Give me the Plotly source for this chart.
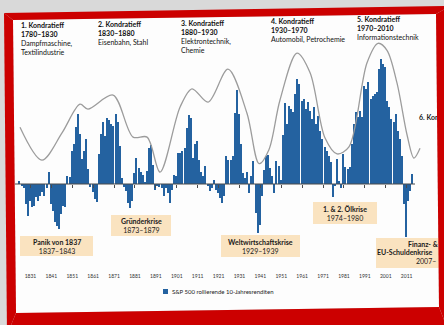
import plotly.graph_objects as go

# ---------------------------------------------------------------- data
years = list(range(1826, 2015))
# S&P 500 rolling 10-year returns, % p.a.
returns = [
    0.4, -0.3, -0.6, -2.9, -4.6, -2.4, -3.3, -3.1, -1.9, -2.4,
    -1.7, -1.1, -1.7, -0.6, 1.7, -2.9, -3.9, -5.4, -6.0, -6.4,
    -4.3, -3.1, -3.3, 1.1, 1.0, 4.7, 5.7, 8.1, 10.0, 7.1,
    3.6, 4.7, 6.4, 2.1, -0.4, -1.1, -2.1, -2.6, 4.3, 7.1,
    8.9, 6.9, 9.4, 9.1, 8.6, 8.3, 10.0, 8.9, 5.4, 0.9,
    -0.4, -1.0, -2.7, -3.4, -2.4, 1.6, 3.7, 2.3, 1.7, 1.3,
    0.3, 1.9, 5.1, 5.6, 2.7, -0.9, -0.3, -0.4, -0.6, -1.7,
    -0.6, -1.3, -2.7, -0.9, 1.3, 1.1, 4.4, 4.4, 4.7, 5.1,
    8.0, 9.9, 9.4, 3.7, 5.7, 6.1, 3.4, 1.7, 1.1, 2.6,
    -0.3, -1.0, -0.6, 0.6, -0.9, -1.3, -2.0, -2.7, -1.7, 4.0,
    3.4, 3.4, 4.0, 10.1, 13.4, 10.0, 5.7, 1.6, 0.9, 1.7,
    -1.3, 1.1, 3.3, -4.1, -7.0, -5.9, -1.7, 2.0, 4.0, 4.1,
    2.3, 1.1, -1.3, 3.3, 2.6, 0.6, 7.0, 11.6, 8.6, 11.1,
    10.7, 10.3, 12.9, 15.0, 14.3, 11.9, 12.1, 10.7, 11.7, 10.4,
    9.3, 11.0, 8.6, 9.7, 7.6, 6.4, 5.3, 4.7, 4.0, 3.1,
    -1.9, -0.3, 3.6, 0.4, -0.6, 4.3, 2.4, 2.1, 2.4, 5.7,
    8.6, 10.3, 9.6, 10.4, 9.6, 14.0, 13.6, 14.6, 12.1, 12.6,
    12.9, 13.1, 16.4, 17.9, 17.1, 16.7, 11.9, 11.0, 9.3, 8.9,
    10.0, 7.6, 6.4, 4.0, -2.9, -7.6, -2.4, -1.0, 1.4,
]

# Kondratieff wave (stylised long cycle)
wave_years = [1826.0, 1836.5, 1846.1, 1854.7, 1858.5, 1870.5, 1880.1, 1886.8,
              1893.0, 1902.6, 1908.3, 1916.0, 1925.5, 1934.6, 1940.4, 1945.1,
              1950.4, 1958.5, 1964.8, 1971.9, 1977.7, 1983.4, 1992.0, 1997.3,
              2001.6, 2006.4, 2011.2, 2014.5, 2017.4]
wave_level = [8.1, 3.4, 7.3, 11.4, 10.7, 12.7, 6.7, 6.7,
              1.7, 11.0, 13.6, 11.7, 16.4, 10.1, 2.9, 4.9,
              12.0, 18.7, 15.9, 6.6, 4.3, 5.3, 17.3, 20.1,
              19.1, 14.4, 7.0, 3.7, 5.1]

tick_years = list(range(1831, 2012, 10))
tick_labels = [str(y) for y in tick_years]

wave_titles = ["1. Kondratieff", "2. Kondratieff", "3. Kondratieff",
               "4. Kondratieff", "5. Kondratieff"]
wave_periods = ["1780–1830", "1830–1880", "1880–1930", "1930–1970", "1970–2010"]
wave_topics = [["Dampfmaschine,", "Textilindustrie"], ["Eisenbahn, Stahl"],
               ["Elektrontechnik,", "Chemie"], ["Automobil, Petrochemie"],
               ["Informationstechnik"]]

crisis_names = ["Panik von 1837", "Gründerkrise", "Weltwirtschaftskrise",
                "1. & 2. Ölkrise"]
crisis_periods = ["1837–1843", "1873–1879", "1929–1939", "1974–1980"]

legend_label = "S&P 500 rollierende 10-Jahresrenditen"
source_text = ("Quelle: Robert J. Shiller, Daten von Irrational Exuberance, "
               "Princeton University Press 2005; Daten von Datastream; "
               "Allianz GI Kapitalmarktanalyse")

# ---------------------------------------------------------------- geometry
W, H = 444, 325
X0, PXY = 20.0, 2.09          # pixel of first year, pixels per year
Z0, PXV = 184.0, 7.0          # pixel of zero line, pixels per percent
XR = [1820, 2020]
YR = [-12, 24]

BAR = "#2462a0"
BEIGE = "#fae3c0"
RED = "#cc0000"
FONT = "Lato"


def px(x):
    return x / W


def py(y):
    return 1 - y / H


def yr(x):
    return 1826 + (x - X0) / PXY


def val(y):
    return (Z0 - y) / PXV


x_dom = [px(X0 + (XR[0] - 1826) * PXY), px(X0 + (XR[1] - 1826) * PXY)]
y_dom = [py(Z0 - YR[0] * PXV), py(Z0 - YR[1] * PXV)]


def poly(pts):
    return "M" + " L".join(f"{px(a):.5f},{py(b):.5f}" for a, b in pts) + " Z"


fig = go.Figure()

fig.add_trace(go.Bar(x=years, y=returns, width=0.6,
                     marker=dict(color=BAR, line=dict(width=0)),
                     showlegend=False, hoverinfo="skip"))

fig.add_trace(go.Scatter(x=wave_years, y=wave_level, mode="lines",
                         line=dict(color="#9c9c9c", width=1.3,
                                   shape="spline", smoothing=0.9),
                         showlegend=False, hoverinfo="skip"))

# axis carrying the year labels
fig.add_trace(go.Scatter(x=[], y=[], xaxis="x2", yaxis="y",
                         showlegend=False, hoverinfo="skip"))

# texts that run under the frame on the right and bottom
edge_x = [419, 408, 377, 416, 2]
edge_y = [118, 245, 253, 262, 312]
edge_t = ["<b>6. Kondratieff</b>", "<b>Finanz- &</b>", "<b>EU-Schuldenkrise</b>",
          "2007–", source_text]
fig.add_trace(go.Scatter(x=[yr(v) for v in edge_x], y=[val(v) for v in edge_y],
                         mode="text", text=edge_t, textposition="middle right",
                         textfont=dict(family=FONT, size=7, color="#1a1a1a"),
                         cliponaxis=False, showlegend=False, hoverinfo="skip"))

shapes = []
# white page
shapes.append(dict(type="path", xref="paper", yref="paper", layer="below",
                   path=poly([(13, 20), (436, 14), (439, 307), (16, 313)]),
                   fillcolor="#fdfdfd", line=dict(width=0)))
# crisis boxes
boxes = [(20, 236, 93, 256), (111, 215, 171, 236), (221, 235, 300, 257),
         (313, 202, 377, 224), (376, 238, 460, 268)]
for x1, y1, x2, y2 in boxes:
    shapes.append(dict(type="rect", xref="paper", yref="paper", layer="below",
                       x0=px(x1), x1=px(x2), y0=py(y2), y1=py(y1),
                       fillcolor=BEIGE, line=dict(width=0)))
# zero line
shapes.append(dict(type="line", xref="x", yref="y", layer="above",
                   x0=yr(15), x1=yr(415), y0=0, y1=0,
                   line=dict(color="#4a4a4a", width=1)))
# legend swatch
shapes.append(dict(type="rect", xref="paper", yref="paper", layer="above",
                   x0=px(163), x1=px(168), y0=py(294), y1=py(289),
                   fillcolor=BAR, line=dict(width=0)))
# red frame
o_tl, o_tr, o_br, o_bl = (4, 13), (450, 6), (450, 335), (7, 335)
i_tl, i_tr, i_br, i_bl = (13, 20), (436, 14), (439, 307), (16, 313)
for band in ([o_tl, o_tr, i_tr, i_tl], [i_tr, o_tr, o_br, i_br],
             [i_bl, i_br, o_br, o_bl], [o_tl, i_tl, i_bl, o_bl]):
    shapes.append(dict(type="path", xref="paper", yref="paper", layer="above",
                       path=poly(band), fillcolor=RED, line=dict(width=0)))

annotations = []
head_pos = [(19, 19), (96, 18), (179, 17), (269, 15), (355, 13)]
for (hx, hy), t, p, topics in zip(head_pos, wave_titles, wave_periods, wave_topics):
    annotations.append(dict(
        xref="paper", yref="paper", x=px(hx), y=py(hy),
        xanchor="left", yanchor="top", align="left", showarrow=False,
        text="<br>".join([f"<b>{t}</b>", f"<b>{p}</b>"] + topics),
        font=dict(family=FONT, size=7, color="#111111")))

for (x1, y1, x2, y2), n, p in zip(boxes[:4], crisis_names, crisis_periods):
    annotations.append(dict(
        xref="paper", yref="paper", x=px((x1 + x2) / 2), y=py((y1 + y2) / 2),
        xanchor="center", yanchor="middle", align="center", showarrow=False,
        text=f"<b>{n}</b><br>{p}",
        font=dict(family=FONT, size=7, color="#1a1a1a")))

annotations.append(dict(
    xref="paper", yref="paper", x=px(170), y=py(291.5),
    xanchor="left", yanchor="middle", showarrow=False, text=legend_label,
    font=dict(family=FONT, size=6, color="#222222")))

fig.update_layout(
    width=W, height=H, margin=dict(l=0, r=0, t=0, b=0),
    paper_bgcolor="#d9d9d9", plot_bgcolor="rgba(0,0,0,0)",
    bargap=0, showlegend=False,
    xaxis=dict(range=XR, domain=x_dom, anchor="free", position=py(Z0),
               showline=False, showgrid=False, zeroline=False,
               ticks="outside", ticklen=3, tickwidth=1, tickcolor="#4a4a4a",
               tickvals=tick_years, showticklabels=False),
    xaxis2=dict(range=XR, domain=x_dom, overlaying="x", anchor="free",
                position=py(272), side="bottom", showline=False,
                showgrid=False, zeroline=False, ticks="",
                tickvals=tick_years, ticktext=tick_labels,
                tickfont=dict(family=FONT, size=5, color="#333333")),
    yaxis=dict(range=YR, domain=y_dom, visible=False),
    shapes=shapes, annotations=annotations,
)

fig.write_html("out.html")
